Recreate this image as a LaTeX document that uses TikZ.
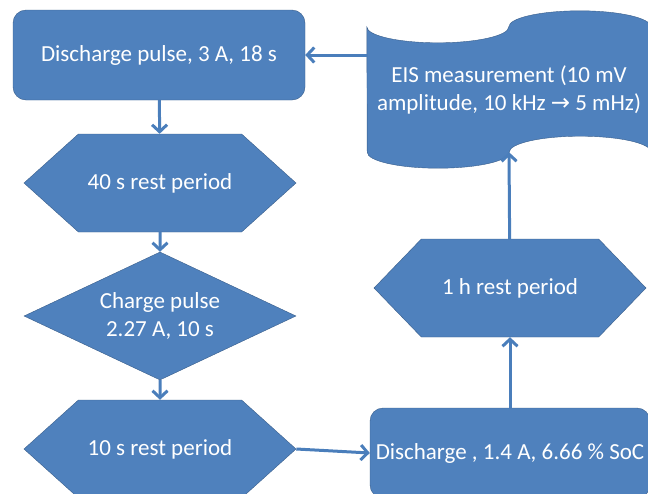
\documentclass[tikz,border=0pt]{standalone}
\usepackage{fontspec}
\setmainfont{Carlito}
\newfontfamily\symfont{DejaVu Sans}
\usetikzlibrary{shapes.geometric,shapes.symbols,arrows.meta,backgrounds}
\definecolor{boxblue}{HTML}{4F81BD}
\definecolor{edgeblue}{HTML}{385D8A}
\definecolor{linkblue}{HTML}{4A7EBB}

\begin{document}
\begin{tikzpicture}[x=1pt,y=-1pt,
  font=\fontsize{23}{28}\selectfont,
  proc/.style={rectangle,rounded corners=13pt,fill=boxblue,draw=edgeblue,text=white,minimum width=292pt,minimum height=90pt},
  rest/.style={signal,signal to=west and east,signal pointer angle=84,fill=boxblue,draw=edgeblue,text=white,minimum width=272pt,minimum height=98pt},
  charge/.style={diamond,aspect=2.125,fill=boxblue,draw=edgeblue,text=white,align=center,minimum width=272pt,minimum height=128pt,inner sep=0pt},
  tape/.style={rectangle,text=white,align=center,minimum width=284pt,minimum height=125pt},
  flow/.style={draw=linkblue,line width=3pt,-{Straight Barb[length=7pt,width=15pt]}}]

  \useasboundingbox (0,0) rectangle (648,493) ;
  \clip (0,0) rectangle (648,493) ;

  \node[proc]   at (159, 55)   (pulse)  {Discharge pulse, 3 A, 18 s} ;
  \node[rest]   at (160, 183)  (rest40) {40 s rest period} ;
  \node[charge] at (160, 316)  (charge) {Charge pulse\\2.27 A, 10 s} ;
  \node[rest]   at (160, 449)  (rest10) {10 s rest period} ;
  \node[proc,minimum width=280pt] at (510, 453) (dis) {Discharge , 1.4 A, 6.66 \% SoC} ;
  \node[rest,signal pointer angle=92] at (510, 288) (rest1h) {1 h rest period} ;
  \node[tape]   at (509, 89.5) (eis)    {EIS measurement (10 mV\\amplitude, 10 kHz {\symfont →} 5 mHz)} ;

  % punched tape outline behind the EIS text
  \begin{scope}[on background layer]
  \fill[boxblue,draw=edgeblue] (eis.north west)
    arc[start angle=180, end angle=360, x radius=71pt, y radius=16pt]
    arc[start angle=180, end angle=0,   x radius=71pt, y radius=16pt]
    -- (eis.south east)
    arc[start angle=0, end angle=180,  x radius=71pt, y radius=16pt]
    arc[start angle=0, end angle=-180, x radius=71pt, y radius=16pt]
    -- cycle ;
  \end{scope}

  \draw[flow] (pulse)  -- (rest40) ;
  \draw[flow] (rest40) -- (charge) ;
  \draw[flow] (charge) -- (rest10) ;
  \draw[flow] (rest10.east) -- (dis.west) ;
  \draw[flow] (dis)    -- (rest1h) ;
  \draw[flow] (rest1h) -- (eis.south) ;
  \draw[flow] (pulse.east -| eis.west) -- (pulse.east) ;

\end{tikzpicture}
\end{document}
